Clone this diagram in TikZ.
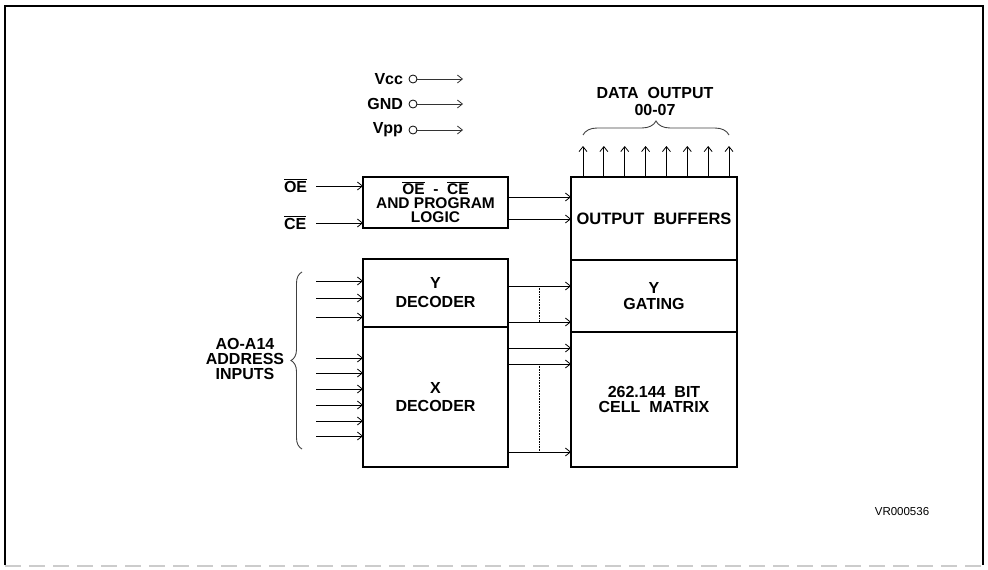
\documentclass[tikz,border=0pt]{standalone}
\usepackage{fontspec}
\setmainfont{Liberation Sans}
\usetikzlibrary{arrows.meta,decorations.pathreplacing,calc}
\begin{document}
\begin{tikzpicture}[x=1pt,y=-1pt,
  blk/.style={draw, line width=1.4pt, inner sep=0pt, outer sep=0pt, align=center},
  arr/.style={line width=0.8pt, -{Straight Barb[length=5pt,width=8pt,line width=0.8pt]}},
  tx/.style={inner sep=0pt, outer sep=0pt, align=center},
  brc/.style={decorate, line width=0.9pt, black!75},
  pin/.style={circle, draw, line width=0.8pt, minimum size=8pt, inner sep=0pt},
]
\useasboundingbox (0,0) rectangle (988,570);
% frame
\draw[line width=1.5pt] (5,565) -- (5,6) -- (983,6) -- (983,565);
\draw[black!20, line width=2pt, dash pattern=on 16pt off 8pt] (5,566) -- (983,566);

% power pins
\foreach \nm/\t/\y in {vcc/Vcc/79, gnd/GND/104, vpp/Vpp/130}{
  \node[tx, anchor=east, font=\fontsize{16}{16}\selectfont\bfseries] (\nm T) at (403,\y) {\t};
  \node[pin] (\nm C) at (413,\y) {};
  \coordinate (\nm E) at (463,\y);
  \draw[arr, black!80] (\nm C) -- (\nm E);
}

% blocks
\node[blk, minimum width=145pt, minimum height=51pt, font=\fontsize{15.5}{14}\selectfont\bfseries] (logic) at (435.5,202.5)
  {$\overline{\mbox{OE}}$\ \ -\ \ $\overline{\mbox{CE}}$\\AND\ PROGRAM\\LOGIC};
\node[blk, minimum width=166pt, minimum height=83pt, font=\fontsize{16.5}{16}\selectfont\bfseries] (ob) at (654,218.5) {OUTPUT\ \ BUFFERS};
\node[blk, minimum width=166pt, minimum height=72pt, font=\fontsize{16}{16}\selectfont\bfseries] (yg) at (654,296) {Y\\GATING};
\node[blk, minimum width=166pt, minimum height=135pt, font=\fontsize{16}{15}\selectfont\bfseries] (cm) at (654,399.5) {262.144\ \ BIT\\CELL\ \ MATRIX};
\node[blk, minimum width=145pt, minimum height=68pt, font=\fontsize{16}{19}\selectfont\bfseries] (yd) at (435.5,293) {Y\\DECODER};
\node[blk, minimum width=145pt, minimum height=140pt, font=\fontsize{16}{18}\selectfont\bfseries] (xd) at (435.5,397) {X\\DECODER};

% OE / CE inputs
\node[tx, anchor=base west, font=\fontsize{16}{16}\selectfont\bfseries] (oe) at (284,192) {$\overline{\mbox{OE}}$};
\node[tx, anchor=base west, font=\fontsize{16}{16}\selectfont\bfseries] (ce) at (284,229) {$\overline{\mbox{CE}}$};
\coordinate (oeS) at (316,186);
\coordinate (ceS) at (316,223);
\draw[arr] (oeS) -- (oeS -| logic.west);
\draw[arr] (ceS) -- (ceS -| logic.west);

% logic -> output buffers
\foreach \y in {197,219}{
  \coordinate (lo\y) at (508,\y);
  \draw[arr] (lo\y) -- (lo\y -| ob.west);
}

% data outputs
\foreach \i in {0,...,7}{
  \coordinate (d\i) at ({583+20.86*\i},146);
  \draw[arr] (d\i |- ob.north) -- (d\i);
}
\draw[brc, decoration={brace, amplitude=14pt}] (583,135) -- (729,135);
\node[tx, font=\fontsize{16}{17}\selectfont\bfseries] (dout) at (655,101) {DATA\ \ OUTPUT\\00-07};

% address inputs
\foreach \y [count=\k] in {281,298,317,358,373,389,405,421,436}{
  \coordinate (a\k) at (316,\y);
  \draw[arr] (a\k) -- (a\k -| yd.west);
}
\draw[brc, decoration={brace, amplitude=11pt}] (302,449) -- (302,272);
\node[tx, font=\fontsize{16}{15}\selectfont\bfseries] (addr) at (245,359) {AO-A14\\ADDRESS\\INPUTS};

% decoder -> gating / matrix
\foreach \y in {286,322}{
  \coordinate (yo\y) at (508,\y);
  \draw[arr] (yo\y) -- (yo\y -| yg.west);
}
\foreach \y in {348,364,452}{
  \coordinate (xo\y) at (508,\y);
  \draw[arr] (xo\y) -- (xo\y -| cm.west);
}
\coordinate (v1) at (539,286);
\coordinate (v2) at (539,322);
\coordinate (v3) at (539,364);
\coordinate (v4) at (539,452);
\draw[line width=0.6pt, densely dotted] (v1) -- (v2);
\draw[line width=0.6pt, densely dotted] (v3) -- (v4);

% reference code
\node[tx, font=\fontsize{11.5}{11.5}\selectfont] (ref) at (902,512) {VR000536};
\end{tikzpicture}
\end{document}
